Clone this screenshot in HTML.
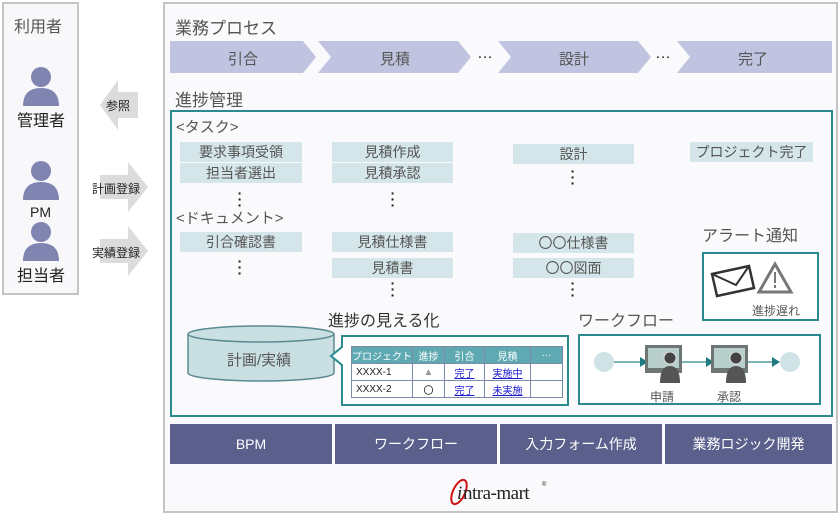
<!DOCTYPE html>
<html><head><meta charset="utf-8"><style>
*{margin:0;padding:0;box-sizing:border-box}
body{width:840px;height:515px;background:#fff;position:relative;overflow:hidden;font-family:"Liberation Sans","Noto Sans CJK JP",sans-serif;color:#555}
.a{position:absolute}
.t{position:absolute;white-space:nowrap}
.box{position:absolute;background:#d4e6e9;color:#555;font-size:14px;text-align:center;line-height:20px}
.bar{position:absolute;top:424px;height:40px;background:#5a5f8c;color:#fff;font-size:14px;text-align:center;line-height:40px}
.dots{position:absolute;font-size:14px;color:#222;font-weight:bold;line-height:6px;width:6px;text-align:center}
table{border-collapse:collapse;font-size:10px}
td{border:1px solid #7a8aa8;height:17px;text-align:center;color:#222}
th{background:#5fa9b2;color:#fff;font-weight:normal;border:1px solid #7a8aa8;height:17px}
a{color:#1a1ad0;text-decoration:underline}
</style></head><body>
<div class="a" style="left:2px;top:2px;width:77px;height:293px;border:2px solid #c4c4c4;background:#f8f8fb"></div>
<div class="t" style="left:14px;top:13px;font-size:16px">利用者</div>
<svg class="a" style="left:0;top:0" width="170" height="300">
<g fill="#7f84b0">
<circle cx="41" cy="77" r="10"/><path d="M23 106 Q23 88 41 88 Q59 88 59 106Z"/>
<circle cx="41" cy="171" r="10"/><path d="M23 200 Q23 182 41 182 Q59 182 59 200Z"/>
<circle cx="41" cy="232" r="10"/><path d="M23 261 Q23 243 41 243 Q59 243 59 261Z"/>
</g>
<g fill="#dcdcdc">
<path d="M100 105 L118 80 L118 92 L138 92 L138 118 L118 118 L118 130Z"/>
<path d="M100 175 L128 175 L128 162 L148 187 L128 212 L128 199 L100 199Z"/>
<path d="M100 239 L128 239 L128 226 L148 251 L128 276 L128 263 L100 263Z"/>
</g>
</svg>
<div class="t" style="left:17px;top:107px;font-size:16px;color:#222">管理者</div>
<div class="t" style="left:30px;top:204px;font-size:14px;color:#222">PM</div>
<div class="t" style="left:17px;top:262px;font-size:16px;color:#222">担当者</div>
<div class="t" style="left:106px;top:97px;font-size:12px;color:#222">参照</div>
<div class="t" style="left:92px;top:180px;font-size:12px;color:#222">計画登録</div>
<div class="t" style="left:92px;top:244px;font-size:12px;color:#222">実績登録</div>
<div class="a" style="left:163px;top:2px;width:675px;height:511px;border:2px solid #c4c4c4;background:#fafafd"></div>
<div class="t" style="left:175px;top:14px;font-size:17px">業務プロセス</div>
<svg class="a" style="left:0;top:0" width="840" height="90">
<g fill="#c0c4e0">
<path d="M170 41 L303 41 L316 57 L303 73 L170 73Z"/>
<path d="M318 41 L458 41 L471 57 L458 73 L318 73 L331 57Z"/>
<path d="M498 41 L638 41 L651 57 L638 73 L498 73 L511 57Z"/>
<path d="M677 41 L832 41 L832 73 L677 73 L690 57Z"/>
</g>
</svg>
<div class="t" style="left:228px;top:48px;font-size:15px">引合</div>
<div class="t" style="left:380px;top:48px;font-size:15px">見積</div>
<div class="t" style="left:477px;top:45px;font-size:16px;color:#222">…</div>
<div class="t" style="left:559px;top:48px;font-size:15px">設計</div>
<div class="t" style="left:655px;top:45px;font-size:16px;color:#222">…</div>
<div class="t" style="left:738px;top:48px;font-size:15px">完了</div>
<div class="t" style="left:175px;top:86px;font-size:17px">進捗管理</div>
<div class="a" style="left:170px;top:110px;width:663px;height:307px;border:2px solid #2a8a8f"></div>
<div class="t" style="left:176px;top:116px;font-size:15px">&lt;タスク&gt;</div>
<div class="box" style="left:180px;top:142px;width:122px">要求事項受領</div>
<div class="box" style="left:180px;top:163px;width:122px">担当者選出</div>
<div class="box" style="left:332px;top:142px;width:121px">見積作成</div>
<div class="box" style="left:332px;top:163px;width:121px">見積承認</div>
<div class="box" style="left:513px;top:144px;width:121px">設計</div>
<div class="box" style="left:690px;top:142px;width:123px">プロジェクト完了</div>
<div class="dots" style="left:237px;top:190px">·<br>·<br>·</div>
<div class="dots" style="left:390px;top:190px">·<br>·<br>·</div>
<div class="dots" style="left:570px;top:168px">·<br>·<br>·</div>
<div class="t" style="left:176px;top:207px;font-size:15px">&lt;ドキュメント&gt;</div>
<div class="box" style="left:180px;top:232px;width:122px">引合確認書</div>
<div class="box" style="left:332px;top:232px;width:121px">見積仕様書</div>
<div class="box" style="left:332px;top:258px;width:121px">見積書</div>
<div class="box" style="left:513px;top:233px;width:121px">〇〇仕様書</div>
<div class="box" style="left:513px;top:258px;width:121px">〇〇図面</div>
<div class="dots" style="left:237px;top:258px">·<br>·<br>·</div>
<div class="dots" style="left:390px;top:280px">·<br>·<br>·</div>
<div class="dots" style="left:570px;top:280px">·<br>·<br>·</div>
<div class="t" style="left:702px;top:222px;font-size:16px">アラート通知</div>
<div class="a" style="left:702px;top:252px;width:117px;height:69px;border:2px solid #2a8a8f;background:#fff"></div>
<svg class="a" style="left:702px;top:252px" width="117" height="69">
<path d="M10 22 L47 14 L52 36 L15 44Z" fill="#fff" stroke="#333" stroke-width="2.5"/>
<path d="M10 22 L34 33 L47 14" fill="none" stroke="#333" stroke-width="2"/>
<path d="M73 12 L57 40 L89 40Z" fill="#fff" stroke="#777" stroke-width="3"/>
<rect x="72" y="20" width="2" height="11" fill="#777"/><rect x="72" y="33" width="2" height="3" fill="#777"/>
</svg>
<div class="t" style="left:752px;top:302px;font-size:12px">進捗遅れ</div>
<div class="t" style="left:328px;top:307px;font-size:16px;color:#333">進捗の見える化</div>
<div class="t" style="left:578px;top:307px;font-size:16px">ワークフロー</div>
<svg class="a" style="left:0;top:300px" width="840" height="120">
<path d="M188 34 L188 73 A73 8 0 0 0 334 73 L334 34" fill="#c9dfe2" stroke="#5a8a90" stroke-width="1.5"/>
<ellipse cx="261" cy="34" rx="73" ry="8" fill="#c9dfe2" stroke="#5a8a90" stroke-width="1.5"/>
<path d="M342 36 L568 36 L568 105 L342 105 L342 65 L331 56 L342 47Z" fill="#fff" stroke="#2a8a8f" stroke-width="2"/>
<rect x="579" y="35" width="241" height="69" fill="#fff" stroke="#2a8a8f" stroke-width="2"/>
<circle cx="604" cy="62" r="10" fill="#cfe3e6"/>
<circle cx="790" cy="62" r="10" fill="#cfe3e6"/>
<g stroke="#2a8a8f" stroke-width="1.2">
<line x1="614" y1="62" x2="640" y2="62"/><line x1="680" y1="62" x2="706" y2="62"/><line x1="746" y1="62" x2="772" y2="62"/>
</g>
<g fill="#1f7a80">
<path d="M640 57 L648 62 L640 67Z"/><path d="M706 57 L714 62 L706 67Z"/><path d="M772 57 L780 62 L772 67Z"/>
</g>
<g>
<rect x="645" y="45" width="37" height="28" fill="#6d7575"/><rect x="648" y="48" width="31" height="20" fill="#b9cfcc"/>
<circle cx="670" cy="58" r="6" fill="#444" stroke="#ddd"/><path d="M660 83 Q660 66 670 66 Q680 66 680 83Z" fill="#555"/>
<rect x="711" y="45" width="37" height="28" fill="#6d7575"/><rect x="714" y="48" width="31" height="20" fill="#b9cfcc"/>
<circle cx="736" cy="58" r="6" fill="#444" stroke="#ddd"/><path d="M726 83 Q726 66 736 66 Q746 66 746 83Z" fill="#555"/>
</g>
</svg>
<div class="t" style="left:227px;top:349px;font-size:15px">計画/実績</div>
<div class="t" style="left:650px;top:388px;font-size:12px">申請</div>
<div class="t" style="left:717px;top:388px;font-size:12px">承認</div>
<table class="a" style="left:351px;top:346px;width:212px">
<tr><th style="width:61px">プロジェクト</th><th style="width:32px">進捗</th><th style="width:40px">引合</th><th style="width:46px">見積</th><th>···</th></tr>
<tr><td style="text-align:left;padding-left:4px">XXXX-1</td><td style="color:#999">▲</td><td><a>完了</a></td><td><a>実施中</a></td><td></td></tr>
<tr><td style="text-align:left;padding-left:4px">XXXX-2</td><td>〇</td><td><a>完了</a></td><td><a>未実施</a></td><td></td></tr>
</table>
<div class="bar" style="left:170px;width:162px">BPM</div>
<div class="bar" style="left:335px;width:162px">ワークフロー</div>
<div class="bar" style="left:500px;width:162px">入力フォーム作成</div>
<div class="bar" style="left:665px;width:167px">業務ロジック開発</div>
<svg class="a" style="left:440px;top:472px" width="120" height="40">
<ellipse cx="19" cy="20" rx="6" ry="13" fill="none" stroke="#d01010" stroke-width="2" transform="rotate(25 19 20)"/>
<text x="17" y="27" font-family="Liberation Serif" font-size="19" fill="#222" font-style="italic">i</text>
<text x="23" y="27" font-family="Liberation Serif" font-size="19" fill="#222" letter-spacing="-0.5">ntra-mart</text>
<text x="102" y="14" font-family="Liberation Sans" font-size="6" fill="#222">®</text>
</svg>
</body></html>
